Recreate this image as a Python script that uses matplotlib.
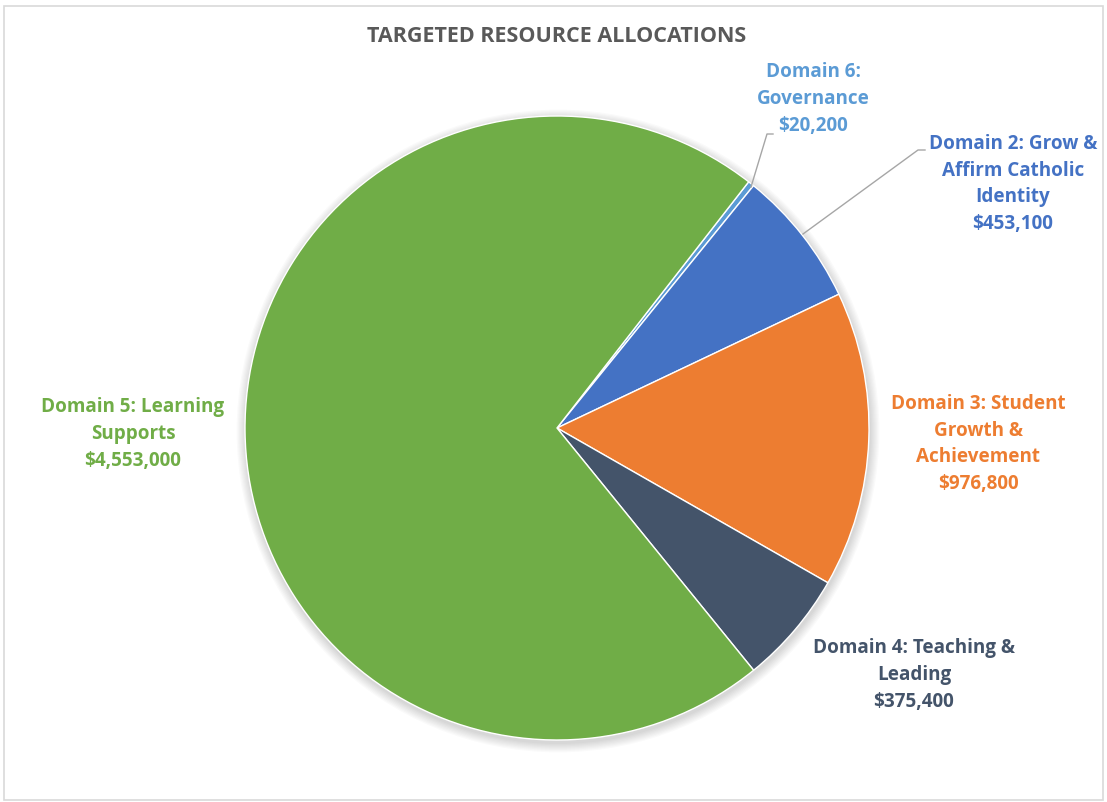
import matplotlib
matplotlib.use("Agg")
import matplotlib.pyplot as plt
from matplotlib.patches import Circle, Rectangle

# Data
categories = ["Domain 6:\nGovernance", "Domain 2: Grow &\nAffirm Catholic\nIdentity",
              "Domain 3: Student\nGrowth &\nAchievement", "Domain 4: Teaching &\nLeading",
              "Domain 5: Learning\nSupports"]
values = [20200, 453100, 976800, 375400, 4553000]
colors = ["#5B9BD5", "#4472C4", "#ED7D31", "#44546A", "#70AD47"]
title = "TARGETED RESOURCE ALLOCATIONS"

W, H = 1107, 802
fig = plt.figure(figsize=(W / 100, H / 100), dpi=100)
ax = fig.add_axes([0, 0, 1, 1])
ax.set_xlim(0, W)
ax.set_ylim(0, H)
ax.set_aspect("equal")
ax.axis("off")

FONT = ["Open Sans", "DejaVu Sans"]

# chart frame
ax.add_patch(Rectangle((4, 2), W - 8, H - 8, fill=False, edgecolor="#D9D9D9", lw=1.2))

cx, cy, R = 557, H - 428, 312

# soft shadow
for k in range(8):
    ax.add_patch(Circle((cx + 1, cy - 3), R + 1 + k * 1.2, color="black", alpha=0.018, lw=0, zorder=1))

wedges, _ = ax.pie(values, colors=colors, startangle=52.1, counterclock=False,
                   center=(cx, cy), radius=R, frame=True,
                   wedgeprops=dict(edgecolor="white", linewidth=1.0, zorder=2))
ax.set_xlim(0, W)
ax.set_ylim(0, H)
ax.axis("off")

ax.text(557, H - 36, title, ha="center", va="center", fontsize=15.5, fontweight="bold",
        color="#595959", family=FONT)

label_pos = [(813, 99), (1013, 184), (978, 444), (914, 675), (133, 434)]
for cat, val, col, (lx, ly) in zip(categories, values, colors, label_pos):
    ax.text(lx, H - ly, f"{cat}\n${val:,}", ha="center", va="center", fontsize=13.6,
            fontweight="bold", color=col, family=FONT, linespacing=1.46, zorder=5)

# leader lines
ax.plot([751, 767, 773], [H - 187, H - 134, H - 134], color="#A6A6A6", lw=1, zorder=4)
ax.plot([803, 918, 925], [H - 234, H - 150, H - 150], color="#A6A6A6", lw=1, zorder=4)

fig.savefig("out.png", dpi=100)
